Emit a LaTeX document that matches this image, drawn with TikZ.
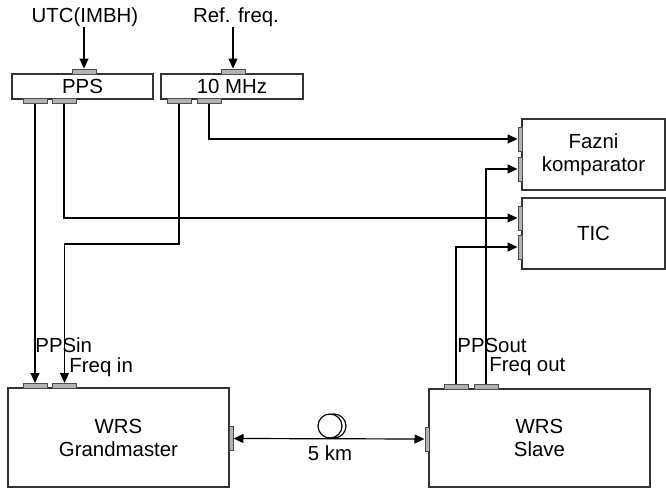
\documentclass[tikz,border=0pt]{standalone}
\usepackage{fontspec}
\setmainfont{Liberation Sans}
\usetikzlibrary{arrows.meta}

\begin{document}
\begin{tikzpicture}[
    x=0.5pt, y=-0.5pt, inner sep=0pt,
    font=\fontsize{10.2}{11.5}\selectfont,
    box/.style={rectangle, draw=black!80, line width=0.6pt, fill=white, align=center},
    hport/.style={rectangle, draw=black!70, fill=black!30, line width=0.5pt, minimum width=12pt, minimum height=2.5pt},
    vport/.style={rectangle, draw=black!70, fill=black!30, line width=0.5pt, minimum width=2pt, minimum height=12pt},
    arrow/.style={-{Triangle[length=5pt, width=4.5pt]}, line width=0.6pt},
    label/.style={anchor=west}
]
    \useasboundingbox (0,0) rectangle (666,488);

    % Reference inputs
    \node (utc) at (85,17) {UTC(IMBH)};
    \node (ref) at (236,17) {Ref. freq.};

    % Distribution boxes
    \node[box, minimum width=70.5pt, minimum height=12.5pt] (pps) at (82.5,86.5) {PPS};
    \node[box, minimum width=71pt, minimum height=12.5pt] (tenmhz) at (232,86.5) {10 MHz};
    \node[hport] (ppsin) at (84,71.5) {};
    \node[hport] (ppsA) at (35,101) {};
    \node[hport] (ppsB) at (64,101) {};
    \node[hport] (tenin) at (233,71.5) {};
    \node[hport] (tenA) at (179,101) {};
    \node[hport] (tenB) at (209,101) {};

    % Measurement boxes
    \node[box, minimum width=71.5pt, minimum height=35.5pt] (fazni) at (593.5,154.5) {Fazni\\komparator};
    \node[box, minimum width=71.5pt, minimum height=35.5pt] (tic) at (593.5,233.5) {TIC};
    \node[vport] (fazA) at (520,139) {};
    \node[vport] (fazB) at (520,169) {};
    \node[vport] (ticA) at (520,218) {};
    \node[vport] (ticB) at (520,247) {};

    % White Rabbit switches
    \node[box, minimum width=110.5pt, minimum height=49.5pt] (gm) at (118.5,437.5) {WRS\\Grandmaster};
    \node[box, minimum width=110.5pt, minimum height=49pt] (slave) at (539.5,438) {WRS\\Slave};
    \node[hport] (gmA) at (35,386) {};
    \node[hport] (gmB) at (64.5,386) {};
    \node[vport] (gmR) at (231,438.5) {};
    \node[hport] (slA) at (456,386.5) {};
    \node[hport] (slB) at (486,386.5) {};
    \node[vport] (slL) at (427,439) {};

    % Port labels
    \node[label] (ppsinlbl) at (35,345) {PPSin};
    \node[label] (freqinlbl) at (69,367) {Freq in};
    \node[label] (ppsoutlbl) at (457,345) {PPSout};
    \node[label] (freqoutlbl) at (489,367) {Freq out};

    % Signal paths
    \draw[arrow] (utc.south -| ppsin) -- (ppsin.north);
    \draw[arrow] (ref.south -| tenin) -- (tenin.north);
    \draw[arrow] (ppsA.south) -- (gmA.north);
    \draw[arrow] (ppsB.south) |- (ticA.west);
    \coordinate (bend) at (179,244);
    \draw[arrow] (tenA.south) -- (bend) -| (gmB.north);
    \draw[arrow] (tenB.south) |- (fazA.west);
    \draw[arrow] (slA.north) |- (ticB.west);
    \draw[arrow] (slB.north) |- (fazB.west);

    % Fibre link
    \draw[line width=0.6pt] (334,426) circle[radius=12];
    \draw[line width=0.6pt, fill=white] (330,426) circle[radius=12];
    \draw[{Triangle[length=5pt, width=4.5pt]}-{Triangle[length=5pt, width=4.5pt]}, line width=0.6pt] (gmR.east) -- (slL.west);
    \node (km) at (330,453) {5 km};
\end{tikzpicture}
\end{document}
